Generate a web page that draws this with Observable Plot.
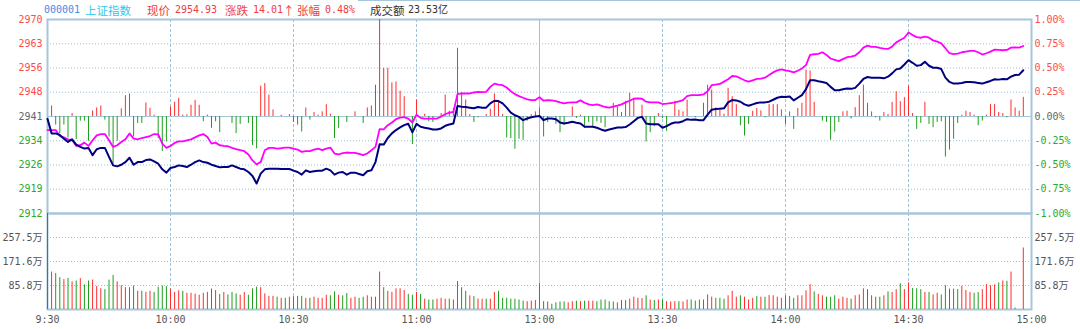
<!DOCTYPE html>
<html><head><meta charset="utf-8">
<script src="https://cdn.jsdelivr.net/npm/d3@7"></script>
<script src="https://cdn.jsdelivr.net/npm/@observablehq/plot@0.6"></script>
<style>
body{margin:0;background:#fff;}
#wrap{position:relative;width:1080px;height:329px;overflow:hidden;background:#fff;}
#wrap svg{position:absolute;left:0;}
.h{position:absolute;top:3px;white-space:nowrap;line-height:14px;}
.cjk{font-family:"Noto Sans CJK SC";font-size:11.5px;}
.num{font-family:"DejaVu Sans Mono","Noto Sans CJK SC";font-size:10px;}
</style></head><body><div id="wrap"></div>
<script>
// ---- header values ----
const code = "000001";
const name = "上证指数";
const lastPrice = 2954.93;
const change = 14.01;
const changePct = "0.48%";
const turnover = "23.53亿";
const prevClose = +(lastPrice - change).toFixed(2); // 2940.92

// ---- axis ticks ----
const pctTicks = [-1, -0.75, -0.5, -0.25, 0, 0.25, 0.5, 0.75, 1];
const volTicks = [85.8, 171.6, 257.5];
const volMax = 343.3;
const timeTicks = [0, 30, 60, 90, 120, 150, 180, 210, 240];
const timeLabels = ["9:30", "10:00", "10:30", "11:00", "13:00", "13:30", "14:00", "14:30", "15:00"];

// ---- per-minute series (index = minute from 9:30, lunch break skipped) ----
const price = [
2940.2,2935.8,2935.8,2935.3,2934.2,2933.2,2934.0,2932.4,2931.7,2931.2,
2931.4,2929.2,2931.0,2931.4,2931.4,2928.7,2926.1,2925.8,2926.3,2927.1,
2928.4,2926.3,2927.1,2927.1,2927.7,2927.9,2927.3,2926.6,2924.9,2923.9,
2925.3,2925.6,2926.1,2925.9,2925.6,2926.3,2927.1,2927.6,2927.1,2926.9,
2926.3,2925.9,2925.5,2925.6,2925.6,2926.1,2925.6,2925.1,2924.9,2924.1,
2922.9,2920.6,2923.6,2924.9,2925.1,2925.1,2925.1,2925.0,2925.0,2925.0,
2924.5,2924.1,2923.3,2924.6,2924.1,2924.3,2924.5,2924.5,2925.1,2924.6,
2923.3,2923.9,2924.1,2923.3,2923.9,2923.9,2923.5,2923.1,2924.3,2924.6,
2927.1,2932.5,2932.4,2934.4,2935.8,2936.8,2937.6,2938.3,2938.7,2936.1,
2938.7,2937.8,2937.5,2937.3,2937.0,2937.0,2937.3,2938.1,2938.5,2938.8,
2944.1,2943.9,2943.8,2943.6,2943.4,2943.8,2943.6,2943.6,2944.9,2945.7,
2945.6,2944.9,2943.6,2942.1,2941.3,2940.8,2939.8,2940.3,2940.7,2940.9,
2941.1,2939.8,2940.3,2940.3,2940.1,2939.1,2938.8,2939.0,2939.3,2939.0,
2938.8,2937.8,2937.8,2937.8,2937.5,2937.0,2936.6,2937.0,2937.3,2937.6,
2937.6,2937.7,2938.5,2939.5,2940.5,2940.8,2938.8,2938.6,2938.6,2938.6,
2937.5,2938.0,2938.7,2939.1,2939.1,2939.5,2940.1,2939.9,2940.0,2939.8,
2939.8,2941.5,2943.0,2943.2,2943.3,2943.4,2945.2,2945.9,2945.8,2945.4,
2944.6,2944.2,2944.6,2945.0,2945.2,2945.2,2945.4,2946.0,2946.6,2946.9,
2946.8,2947.0,2945.8,2946.6,2947.4,2949.2,2951.9,2951.9,2951.6,2951.4,
2951.1,2949.9,2948.9,2948.9,2949.2,2949.4,2949.3,2949.6,2950.9,2952.3,
2952.9,2952.7,2952.7,2952.7,2952.5,2953.0,2954.0,2955.2,2955.5,2956.7,
2958.0,2957.2,2956.3,2956.5,2957.5,2956.3,2955.7,2955.7,2955.3,2952.7,
2951.4,2950.9,2950.9,2951.1,2951.4,2951.4,2951.3,2951.1,2950.9,2951.3,
2951.7,2952.2,2952.1,2952.3,2952.2,2953.0,2953.5,2953.6,2954.93
];
const avgIndex = [
2936.8,2936.8,2936.8,2935.0,2934.6,2934.0,2933.8,2932.0,2932.2,2933.0,
2932.0,2933.7,2935.2,2935.6,2935.6,2933.7,2931.7,2932.2,2933.2,2934.0,
2935.8,2934.2,2934.0,2934.4,2934.7,2935.0,2935.6,2935.5,2932.7,2931.4,
2932.0,2932.9,2933.4,2933.4,2933.7,2934.0,2934.6,2935.2,2935.6,2934.7,
2932.7,2933.0,2932.2,2932.0,2931.9,2931.4,2931.0,2930.7,2930.4,2929.4,
2927.6,2926.4,2927.1,2930.7,2931.4,2931.4,2931.2,2931.3,2931.5,2931.5,
2931.2,2930.9,2930.2,2930.4,2930.4,2930.9,2931.2,2930.7,2931.2,2931.5,
2929.7,2929.4,2929.8,2930.0,2929.9,2929.9,2929.6,2929.2,2929.7,2930.7,
2931.7,2937.1,2937.0,2938.3,2939.1,2940.1,2940.6,2940.7,2940.3,2939.1,
2941.5,2940.5,2940.3,2940.3,2940.3,2940.3,2940.9,2941.6,2942.1,2942.3,
2947.7,2947.9,2947.9,2947.9,2948.2,2948.4,2948.3,2948.4,2949.9,2950.9,
2950.6,2950.4,2949.7,2948.6,2947.7,2947.1,2946.6,2946.1,2945.9,2945.9,
2946.8,2945.7,2945.9,2945.8,2945.6,2945.2,2944.9,2945.1,2945.2,2945.2,
2945.8,2945.1,2944.6,2944.4,2944.6,2944.2,2943.8,2943.6,2943.9,2944.2,
2944.6,2945.2,2945.7,2946.3,2946.4,2946.3,2945.4,2945.2,2945.2,2945.2,
2944.7,2944.8,2945.0,2945.2,2945.5,2945.9,2947.1,2947.4,2947.4,2947.4,
2947.6,2948.6,2950.4,2950.6,2950.8,2951.5,2952.2,2953.2,2953.1,2952.5,
2951.9,2951.5,2951.9,2952.3,2952.4,2952.7,2953.5,2954.3,2954.9,2955.2,
2954.9,2954.7,2954.3,2954.8,2955.5,2956.5,2959.6,2959.8,2959.9,2960.4,
2959.6,2958.5,2958.1,2957.7,2958.3,2958.9,2959.1,2959.4,2960.4,2961.8,
2962.4,2962.0,2962.0,2961.7,2961.5,2961.4,2962.1,2963.4,2964.1,2964.8,
2966.4,2965.6,2965.0,2964.8,2965.1,2964.8,2964.0,2963.6,2963.1,2961.6,
2960.1,2959.8,2960.0,2960.4,2960.6,2960.8,2960.8,2960.4,2959.7,2960.1,
2960.6,2961.2,2961.1,2961.0,2961.1,2961.8,2961.9,2961.8,2962.3
];
// buy/sell strength bars, in index points above/below the previous close
const strength = [
0,3.2,-2.6,-5.2,-2.6,-6.5,0.9,-7,-1.4,-1.4,
-7.5,1.7,2.6,3.2,-1.1,-6.2,-14.4,-7.5,2.3,6.3,
6.8,-6.2,-2.1,-2.1,4.1,2.5,0.4,-6.7,-10.6,-7.7,
2.8,4.3,5.5,0.4,0.5,3.4,4.9,3.4,-1.6,0.4,
-3.6,-1.6,-4.9,0,0,-2.1,-5.2,-2.4,0,-2.1,
-8.8,-9.8,9.2,10.0,6.5,2.0,0,0.4,0,0.6,
-1.8,-2.6,-4.7,2.6,-1.1,1.2,0.4,1.4,3.6,0.7,
-6.7,-3.6,0,-1.8,0,1.4,0,-2.1,2.6,3.2,
9.5,29.4,14.6,14.6,10.2,10.5,7.7,6.0,0,-8.5,
5.0,0,0.7,-1.6,-1.8,0,0.9,6.5,1.6,2.4,
20.7,7.3,5.0,0.6,-1.8,-0.4,0,0.6,2.2,6.8,
4.6,0.6,-6.5,-6.7,-9.9,-6.9,-7.2,-1.4,0.6,1.4,
2.6,-6.2,-1.8,0,-2.4,-4.9,-2.6,0,2.9,-0.6,
0.4,-3.6,-1.8,-3.1,-1.6,-2.1,-3.4,0,4.0,2.9,
1.2,4.6,7.0,5.5,0,3.4,-7.7,-4.9,-3.1,0.9,
-0.6,-4.5,0,4.6,1.9,1.4,5.0,0,-0.4,0,
4.0,9.5,8.0,2.6,1.9,0.7,8.5,6.0,3.6,-2.8,
-5.9,-2.4,1.6,2.4,1.7,-0.4,3.6,3.6,3.6,2.0,
-2.4,1.4,-3.9,2.4,4.0,14.1,13.8,4.3,0,-1.4,
-1.8,-7.2,-4.7,-1.8,1.4,1.6,-0.8,2.7,6.3,9.5,
4.0,1.4,-0.4,-1.4,1.2,0.6,4.3,7.5,4.5,5.7,
9.2,0.9,-3.9,-2.1,4.3,-2.4,-3.4,-1.8,-1.6,-12.3,
-10.2,-6.9,-2.1,0.4,1.6,1.2,0.4,-2.8,-1.4,0.4,
3.6,3.6,1.2,0.9,-0.4,5.0,2.6,1.6,5.8
];
// volume in 万
const volume = [
344,134,129,114,107,111,99,102,111,88,
102,105,82,74,71,105,122,99,85,78,
78,84,65,65,61,65,61,80,84,82,
73,61,67,65,58,58,55,51,58,61,
73,68,54,61,52,61,56,51,61,51,
74,80,78,56,47,47,44,40,40,44,
46,47,47,40,40,44,40,40,51,49,
63,51,49,57,40,44,40,44,49,44,
44,134,78,65,61,74,74,68,54,51,
61,54,37,34,34,37,40,37,37,34,
100,78,65,49,46,37,37,37,37,61,
65,40,40,37,37,34,30,28,30,32,
92,28,27,19,24,27,27,24,28,30,
28,30,30,30,28,34,34,28,27,24,
32,32,37,44,40,39,49,34,32,34,
34,28,27,28,28,27,34,34,30,34,
34,52,44,40,40,37,49,65,44,49,
44,34,40,46,44,44,50,49,44,40,
49,46,40,49,49,67,89,63,54,49,
44,44,49,37,44,40,37,49,52,74,
71,49,44,44,49,63,61,71,92,71,
95,75,74,71,61,61,52,58,52,85,
73,73,71,83,68,61,58,61,71,89,
85,88,95,102,101,134,5,0,220
];
// r = up minute, g = down minute
const volDir = (
"grggrgrgrg"+"grrrgggrrr"+"rgrgrrgggg"+"rrrgrrrrrr"+"grgrgggrrg"+
"ggrrrrgrgr"+"gggrgrrrrg"+"grggrrggrr"+"rrgrrrrrgg"+"rgrggrrrgr"+
"rggrgrrgrr"+"gggggggrrr"+"rgrggggrrg"+"rgrrgggggr"+"ggrrrrgrgr"+
"grrrgrrggg"+"rrrgggrrrg"+"rrrgrgrrrr"+"gggrrrrgrr"+"gggrrrgrrr"+
"grggrgrrgr"+"rgggrgrrgg"+"gggrrrggrr"+"rrgrgrggr").split("");

// ---- styling ----
const RED = "#ff2c2c", GREEN = "#1c9e1c", NAVY = "#000080", MAGENTA = "#ff00ff";
const GRID = "#9fc2d6", BORDER = "#a6c6da";
const LBL_RED = "#ff4a4a", LBL_GREEN = "#2aaa2a", LBL_GRAY = "#666";
const FONT = "'DejaVu Sans Mono','Noto Sans CJK SC',monospace";

const wrap = document.getElementById("wrap");

// header
const hdr = [
  [code, "#3a8ee6", 44, "num"], [name, "#2ec8f0", 85, "cjk"],
  ["现价", "#f03c3c", 147, "cjk"], [lastPrice.toFixed(2), "#f03c3c", 175, "num"],
  ["涨跌", "#f03c3c", 225, "cjk"], [change.toFixed(2), "#f03c3c", 253, "num"], ["↑", "#f03c3c", 283, "cjk"],
  ["张幅", "#f03c3c", 297, "cjk"], [changePct, "#f03c3c", 325, "num"],
  ["成交额", "#333", 370, "cjk"], [turnover, "#333", 408, "num"]
];
for (const [t, c, x, cls] of hdr) {
  const s = document.createElement("span");
  s.className = "h " + cls; s.textContent = t; s.style.color = c; s.style.left = x + "px";
  wrap.appendChild(s);
}
const topLine = document.createElement("div");
topLine.style.cssText = "position:absolute;left:358px;top:0;width:722px;height:1px;background:" + BORDER;
wrap.appendChild(topLine);

const idx = (d, i) => i;
const tp = p => prevClose * (1 + p / 100);
const gridMin = [30, 60, 90, 150, 180, 210];
const intFmt = d => String(Math.round(d));
const pctFmt = d => ((d / prevClose - 1) * 100).toFixed(2) + "%";

const topPlot = Plot.plot({
  width: 1080, height: 219,
  marginLeft: 47, marginRight: 49, marginTop: 19, marginBottom: 6,
  x: {domain: [0, 240], axis: null},
  y: {domain: [tp(-1), tp(1)]},
  color: {type: "identity"},
  style: {fontFamily: FONT, fontSize: "10px", background: "transparent", overflow: "visible"},
  marks: [
    Plot.ruleY(pctTicks.filter(p => p !== 0 && Math.abs(p) !== 1).map(tp), {stroke: GRID, strokeDasharray: "1,2"}),
    Plot.ruleX(gridMin, {stroke: GRID, strokeDasharray: "3,2"}),
    Plot.ruleX([120], {stroke: GRID}),
    Plot.ruleY([prevClose], {stroke: BORDER}),
    Plot.frame({stroke: BORDER, strokeWidth: 2}),
    Plot.ruleX(strength, {x: idx, y1: prevClose, y2: d => prevClose + d, stroke: d => d >= 0 ? RED : GREEN, strokeWidth: 1, filter: d => d !== 0}),
    Plot.line(avgIndex, {x: idx, y: d => d, stroke: MAGENTA, strokeWidth: 1.8}),
    Plot.line(price, {x: idx, y: d => d, stroke: NAVY, strokeWidth: 2}),
    Plot.axisY({anchor: "left", ticks: pctTicks.filter(p => p > 0).map(tp), tickSize: 0, tickPadding: 5, tickFormat: intFmt, fill: LBL_RED, label: null}),
    Plot.axisY({anchor: "left", ticks: [prevClose], tickSize: 0, tickPadding: 5, tickFormat: intFmt, fill: LBL_GRAY, label: null}),
    Plot.axisY({anchor: "left", ticks: pctTicks.filter(p => p < 0).map(tp), tickSize: 0, tickPadding: 5, tickFormat: intFmt, fill: LBL_GREEN, label: null}),
    Plot.axisY({anchor: "right", ticks: pctTicks.filter(p => p > 0).map(tp), tickSize: 0, tickPadding: 3, tickFormat: pctFmt, fill: LBL_RED, label: null}),
    Plot.axisY({anchor: "right", ticks: [prevClose], tickSize: 0, tickPadding: 3, tickFormat: () => "0.00%", fill: LBL_GRAY, label: null}),
    Plot.axisY({anchor: "right", ticks: pctTicks.filter(p => p < 0).map(tp), tickSize: 0, tickPadding: 3, tickFormat: pctFmt, fill: LBL_GREEN, label: null})
  ]
});
topPlot.style.top = "0px";
wrap.appendChild(topPlot);

const volPlot = Plot.plot({
  width: 1080, height: 129,
  marginLeft: 47, marginRight: 49, marginTop: 13, marginBottom: 20,
  x: {domain: [0, 240]},
  y: {domain: [0, volMax]},
  color: {type: "identity"},
  style: {fontFamily: FONT, fontSize: "10px", background: "transparent", overflow: "visible"},
  marks: [
    Plot.ruleY(volTicks, {stroke: GRID, strokeDasharray: "1,2"}),
    Plot.ruleX(gridMin, {stroke: GRID, strokeDasharray: "3,2"}),
    Plot.ruleX([120], {stroke: GRID}),
    Plot.frame({stroke: BORDER, strokeWidth: 2}),
    Plot.ruleX(volume, {x: idx, y1: 0, y2: d => d, stroke: (d, i) => volDir[i] === "r" ? RED : GREEN, strokeWidth: 1, filter: d => d > 0}),
    Plot.axisY({anchor: "left", ticks: volTicks, tickSize: 0, tickPadding: 5, tickFormat: d => d.toFixed(1) + "万", fill: "#555", label: null}),
    Plot.axisY({anchor: "right", ticks: volTicks, tickSize: 0, tickPadding: 3, tickFormat: d => d.toFixed(1) + "万", fill: "#555", label: null}),
    Plot.axisX({ticks: timeTicks, tickSize: 0, tickPadding: 6, tickFormat: d => timeLabels[timeTicks.indexOf(d)], fill: "#555", label: null})
  ]
});
volPlot.style.top = "200px";
wrap.appendChild(volPlot);
</script>
</body></html>
